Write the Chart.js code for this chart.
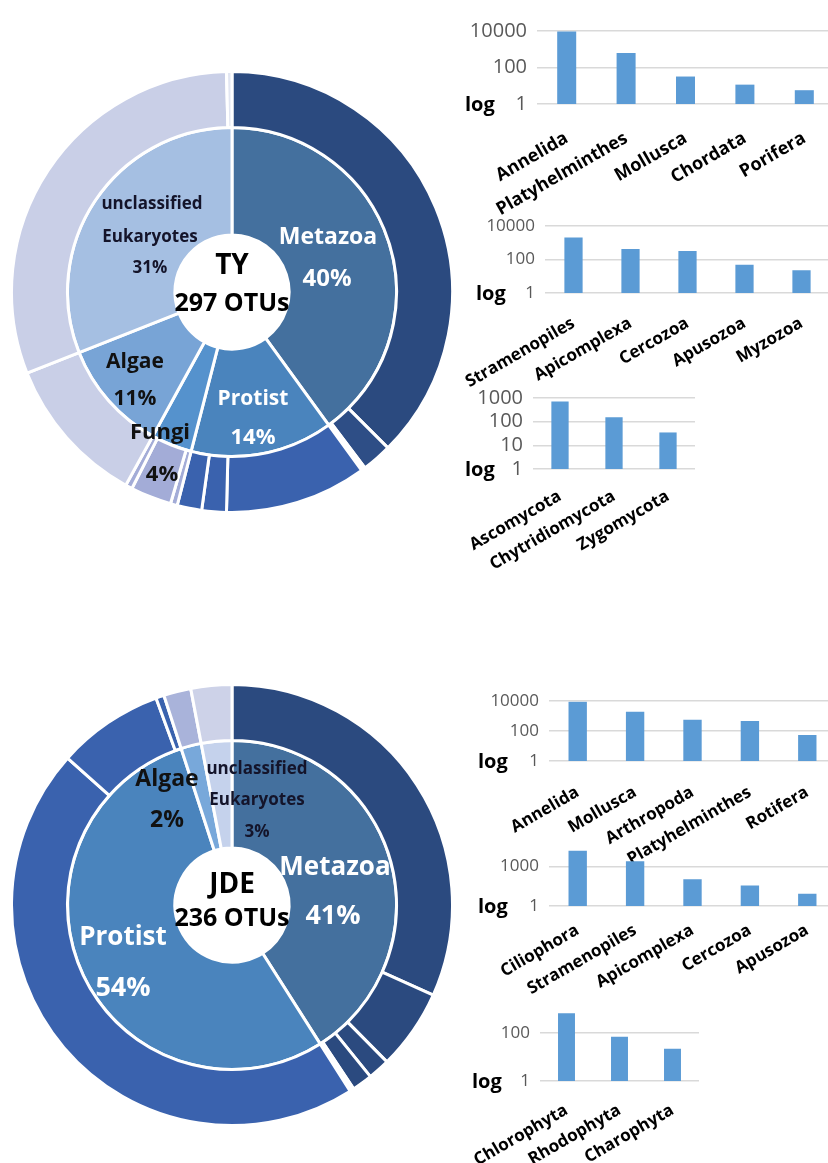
<!DOCTYPE html>
<html>
<head>
<meta charset="utf-8">
<script src="https://cdn.jsdelivr.net/npm/chart.js@4.4.1/dist/chart.umd.min.js"></script>
<style>
  body { margin: 0; width: 828px; height: 1163px; overflow: hidden; background: #fff; position: relative; font-family: 'Open Sans', sans-serif; }
  canvas { position: absolute; }
  .lbl { position: absolute; transform: translate(-50%, -50%); font-weight: 700; white-space: nowrap; line-height: 1; }
  .log { position: absolute; transform: translateY(-50%); font-weight: 700; color: #000; line-height: 1; }
</style>
</head>
<body>
<script>
// ---- TY site: OTU share per group (inner ring) and per lineage (outer ring)
const tyGroups = ['Metazoa', 'Protist', 'Fungi', 'Algae', 'unclassified Eukaryotes'];
const tyShare = [40, 14, 4, 11, 31];
const tyLineageShare = [37.5, 2.2, 0.3, 10.4, 1.8, 1.8, 0.5, 3.0, 0.5, 11, 30.6, 0.4];

// ---- JDE site
const jdeGroups = ['Metazoa', 'Protist', 'Algae', 'unclassified Eukaryotes'];
const jdeShare = [41, 54, 2, 3];
const jdeLineageShare = [31.7, 5.9, 1.6, 1.5, 0.3, 45.6, 7.8, 0.6, 2, 3];

// ---- read counts (log axis) for the dominant phyla
const tyMetazoaNames = ['Annelida', 'Platyhelminthes', 'Mollusca', 'Chordata', 'Porifera'];
const tyMetazoaReads = [9300, 630, 32, 11.5, 5.7];
const tyProtistNames = ['Stramenopiles', 'Apicomplexa', 'Cercozoa', 'Apusozoa', 'Myzozoa'];
const tyProtistReads = [2100, 425, 330, 49, 23];
const tyFungiNames = ['Ascomycota', 'Chytridiomycota', 'Zygomycota'];
const tyFungiReads = [710, 155, 35];

const jdeMetazoaNames = ['Annelida', 'Mollusca', 'Arthropoda', 'Platyhelminthes', 'Rotifera'];
const jdeMetazoaReads = [9200, 1990, 580, 480, 54];
const jdeProtistNames = ['Ciliophora', 'Stramenopiles', 'Apicomplexa', 'Cercozoa', 'Apusozoa'];
const jdeProtistReads = [15000, 2400, 105, 36, 8.6];
const jdeAlgaeNames = ['Chlorophyta', 'Rhodophyta', 'Charophyta'];
const jdeAlgaeReads = [670, 71, 22];

const ticksTenK = [1, 100, 10000];
const ticksThousand = [1, 10, 100, 1000];
const ticksCilio = [1, 1000];
const ticksHundred = [1, 100];

// colours
const navy = '#2b4a7f', midBlue = '#3a62ae', lilac = '#a3acd7', lav = '#c9cfe7';
const tyInnerColors = ['#44709e', '#4a84bd', '#5592cd', '#78a4d6', '#a5bfe2'];
const tyOuterColors = [navy, '#2e4e86', '#ffffff', midBlue, midBlue, midBlue, lilac, lilac, lilac, lav, lav, '#e2e6f2'];
const jdeInnerColors = ['#44709e', '#4a84bd', '#78a8da', '#c5d2ec'];
const jdeOuterColors = [navy, navy, navy, navy, '#ffffff', midBlue, midBlue, midBlue, '#a9b3da', '#cdd2e8'];

const FONT = "'Open Sans', sans-serif";
Chart.defaults.font.family = FONT;
Chart.defaults.animation = false;

// category names written at 30 degrees, right end under each bar
const slantLabels = {
  id: 'slantLabels',
  afterDraw(chart, args, opts) {
    const { ctx } = chart;
    const x = chart.scales.x;
    ctx.save();
    ctx.font = `bold ${opts.size}px ${FONT}`;
    ctx.fillStyle = '#000';
    ctx.textAlign = 'right';
    ctx.textBaseline = 'middle';
    chart.data.labels.forEach((name, i) => {
      ctx.save();
      ctx.translate(x.getPixelForTick(i) + opts.dx, x.top + opts.dy);
      ctx.rotate(-Math.PI / 6);
      ctx.fillText(name, 0, 0);
      ctx.restore();
    });
    ctx.restore();
  }
};

function addCanvas(left, top, w, h) {
  const c = document.createElement('canvas');
  c.width = w; c.height = h;
  c.style.left = left + 'px'; c.style.top = top + 'px';
  c.style.width = w + 'px'; c.style.height = h + 'px';
  document.body.appendChild(c);
  return c;
}

function tag(text, x, y, size, color) {
  const d = document.createElement('div');
  d.className = 'lbl';
  d.textContent = text;
  d.style.left = x + 'px'; d.style.top = y + 'px';
  d.style.fontSize = size + 'px';
  d.style.color = color;
  document.body.appendChild(d);
}

function logTag(x, y, size) {
  const d = document.createElement('div');
  d.className = 'log';
  d.textContent = 'log';
  d.style.left = x + 'px'; d.style.top = y + 'px';
  d.style.fontSize = size + 'px';
  document.body.appendChild(d);
}

// two-ring doughnut: outer = lineages, inner = groups
function rings(cx, cy, groups, share, inColors, lineage, outColors) {
  const size = 444;
  const c = addCanvas(cx - size / 2, cy - size / 2, size, size);
  new Chart(c, {
    type: 'doughnut',
    data: {
      labels: lineage.map((_, i) => 'L' + i),
      datasets: [
        { data: lineage, backgroundColor: outColors, borderColor: '#fff', borderWidth: 3, weight: 56 },
        { data: share, labels: groups, backgroundColor: inColors, borderColor: '#fff', borderWidth: 3, weight: 107.5 }
      ]
    },
    options: {
      responsive: false,
      cutout: '25.9%',
      layout: { padding: 0 },
      events: [],
      plugins: { legend: { display: false }, tooltip: { enabled: false } }
    }
  });
}

// small log-scale bar panel; box is the plot area in page pixels
function barPanel(names, reads, ticks, max, box, yFont, xFont, dy) {
  const YW = 90, PT = 12, XH = 125;
  const w = YW + box.right - box.left;
  const h = PT + box.bottom - box.top + XH;
  const c = addCanvas(box.left - YW, box.top - PT, w, h);
  new Chart(c, {
    type: 'bar',
    data: {
      labels: names,
      datasets: [{ data: reads, backgroundColor: '#5b9bd5', barPercentage: 0.32, categoryPercentage: 1 }]
    },
    plugins: [slantLabels],
    options: {
      responsive: false,
      events: [],
      layout: { padding: { top: PT, left: 0, right: 0, bottom: 0 } },
      plugins: {
        legend: { display: false },
        tooltip: { enabled: false },
        slantLabels: { size: xFont, dx: 0, dy: dy }
      },
      scales: {
        x: {
          grid: { display: false, drawTicks: false },
          border: { display: false },
          ticks: { display: false },
          afterFit: s => { s.height = XH; }
        },
        y: {
          type: 'logarithmic',
          min: 1,
          max: max,
          afterBuildTicks: s => { s.ticks = ticks.map(v => ({ value: v })); },
          afterFit: s => { s.width = YW; },
          grid: { color: '#d9d9d9', lineWidth: 1.5, drawTicks: false },
          border: { display: false },
          ticks: { color: '#595959', font: { size: yFont }, padding: 10, autoSkip: false, callback: v => String(v) }
        }
      }
    }
  });
}

// ---------- TY ----------
rings(232, 292, tyGroups, tyShare, tyInnerColors, tyLineageShare, tyOuterColors);
tag('unclassified', 152, 202, 17, '#14142a');
tag('Eukaryotes', 150, 235, 17, '#14142a');
tag('31%', 150, 266, 17, '#14142a');
tag('Metazoa', 328, 235, 23, '#fff');
tag('40%', 327, 277, 24, '#fff');
tag('TY', 232, 263, 28, '#000');
tag('297 OTUs', 232, 301, 25, '#000');
tag('Algae', 135, 360, 21, '#111');
tag('11%', 135, 397, 21, '#111');
tag('Protist', 253, 397, 21, '#fff');
tag('14%', 253, 435, 22, '#fff');
tag('Fungi', 160, 430, 22, '#111');
tag('4%', 162, 472, 22, '#111');

barPanel(tyMetazoaNames, tyMetazoaReads, ticksTenK, 10000, { left: 537, top: 21, right: 834, bottom: 104 }, 20, 18, 33);
logTag(465, 104, 20);
barPanel(tyProtistNames, tyProtistReads, ticksTenK, 10000, { left: 545, top: 218, right: 830, bottom: 293 }, 17, 17, 29);
logTag(476, 293, 20);
barPanel(tyFungiNames, tyFungiReads, ticksThousand, 1000, { left: 533, top: 388, right: 695, bottom: 469 }, 20, 17, 26);
logTag(465, 469, 20);

// ---------- JDE ----------
rings(232, 905, jdeGroups, jdeShare, jdeInnerColors, jdeLineageShare, jdeOuterColors);
tag('Algae', 167, 777, 23, '#111');
tag('2%', 167, 818, 23, '#111');
tag('unclassified', 257, 767, 17, '#14142a');
tag('Eukaryotes', 257, 798, 17, '#14142a');
tag('3%', 257, 830, 17, '#14142a');
tag('Metazoa', 335, 865, 26, '#fff');
tag('41%', 333, 913, 27, '#fff');
tag('JDE', 232, 882, 28, '#000');
tag('236 OTUs', 232, 916, 25, '#000');
tag('Protist', 123, 935, 26, '#fff');
tag('54%', 123, 985, 27, '#fff');

barPanel(jdeMetazoaNames, jdeMetazoaReads, ticksTenK, 10000, { left: 549, top: 693, right: 836, bottom: 761 }, 17, 17, 30);
logTag(478, 761, 20);
barPanel(jdeProtistNames, jdeProtistReads, ticksCilio, 20000, { left: 549, top: 841, right: 836, bottom: 906 }, 17, 17, 23);
logTag(478, 906, 20);
barPanel(jdeAlgaeNames, jdeAlgaeReads, ticksHundred, 1000, { left: 540, top: 1001, right: 699, bottom: 1081 }, 17, 17, 28);
logTag(472, 1081, 20);
</script>
</body>
</html>
